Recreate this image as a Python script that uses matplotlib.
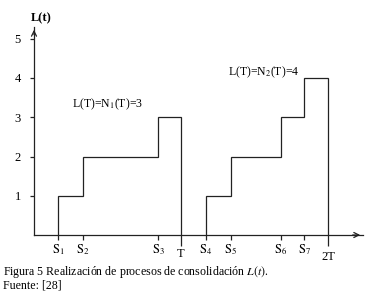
import matplotlib
matplotlib.use("Agg")
import matplotlib.pyplot as plt

# region FONTS
plt.rcParams['font.family'] = ['Liberation Serif', 'DejaVu Serif']
plt.rcParams['mathtext.fontset'] = 'stix'
# endregion

# region DATA
T = 1.0
jumps_1 = [0.163, 0.333, 0.844]          # S1, S2, S3
jumps_2 = [1.170, 1.340, 1.680, 1.840]   # S4..S7
levels_1 = [1, 2, 3]
levels_2 = [1, 2, 3, 4]
s_labels = [r'$\mathrm{S}_{%d}$' % i for i in range(1, 8)]
y_ticks = [1, 2, 3, 4, 5]
end_ticks = [T, 2 * T]
end_labels = ['T', '2T']
# endregion

W, H = 387, 301
fig = plt.figure(figsize=(W / 100, H / 100), dpi=100)
fig.patch.set_facecolor('white')

# axes box: origin at px (34, 235), arrow tips at px (363, 27)
x0, y0, x1, y1 = 34, 235, 363, 27
ax = fig.add_axes([x0 / W, (H - y0) / H, (x1 - x0) / W, (y0 - y1) / H])
ax.set_xlim(0, (x1 - x0) / 147.0)
ax.set_ylim(0, (y0 - y1) / 39.25)
ax.patch.set_visible(False)

lc = '#222222'
for side in ['top', 'right']:
    ax.spines[side].set_visible(False)
for side in ['left', 'bottom']:
    ax.spines[side].set_color(lc)
    ax.spines[side].set_linewidth(0.9)

# arrow heads
ax.annotate('', xy=(1.0, 0), xytext=(0.96, 0), xycoords='axes fraction',
            arrowprops=dict(arrowstyle='->', color=lc, lw=0.9, mutation_scale=9))
ax.annotate('', xy=(0, 1.0), xytext=(0, 0.95), xycoords='axes fraction',
            arrowprops=dict(arrowstyle='->', color=lc, lw=0.9, mutation_scale=9))

# step realisations
ax.stairs(levels_1, jumps_1 + [T], baseline=0, color=lc, lw=0.9)
ax.stairs(levels_2, jumps_2 + [2 * T], baseline=0, color=lc, lw=0.9)

# y ticks
ax.set_yticks(y_ticks)
ax.set_yticklabels([str(v) for v in y_ticks])
ax.tick_params(axis='y', direction='out', length=3, width=0.9, color=lc,
               pad=6.5, labelsize=9)

# x ticks: S_i major, T / 2T minor (longer, lower)
ax.set_xticks(jumps_1 + jumps_2)
ax.set_xticklabels(s_labels)
ax.set_xticks(end_ticks, minor=True)
ax.set_xticklabels(end_labels, minor=True)
ax.tick_params(axis='x', which='major', direction='out', length=3.5, width=0.9,
               color=lc, pad=2, labelsize=9)
ax.tick_params(axis='x', which='minor', direction='out', length=8, width=0.9,
               color=lc, pad=1.5, labelsize=9)
for lab in ax.get_xticklabels(minor=True):
    if lab.get_text() == '2T':
        lab.set_y(-0.015)

# annotations
fig.text(41 / W, 1 - 18 / H, 'L(t)', ha='center', va='center', fontsize=9,
         fontweight='bold')
ax.text(0.50, 3.34, r'L(T)=N$_1$(T)=3', ha='center', va='center', fontsize=8.5)
ax.text(1.565, 4.15, r'L(T)=N$_2$(T)=4', ha='center', va='center', fontsize=8.5)

# caption
fig.text(3 / W, 1 - 272 / H, r'Figura 5 Realización de procesos de consolidación $L(t)$.',
         ha='left', va='center', fontsize=8.6)
fig.text(3 / W, 1 - 286 / H, 'Fuente: [28]', ha='left', va='center', fontsize=8.6)

fig.savefig('out.png', dpi=100)
